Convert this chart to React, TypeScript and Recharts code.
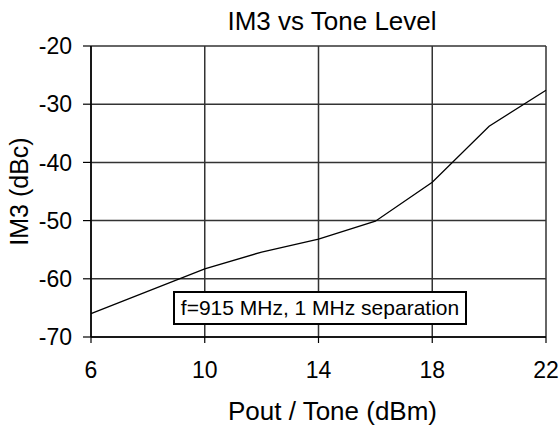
import { LineChart, Line, XAxis, YAxis, CartesianGrid } from 'recharts';

// Pout per tone (dBm) and measured IM3 (dBc)
const toneLevels = [6, 10, 12, 14, 16, 18, 20, 22];
const im3Values = [-66, -58.3, -55.4, -53.2, -50.1, -43.4, -33.8, -27.6];

const xTicks = [6, 10, 14, 18, 22];
const yTicks = [-70, -60, -50, -40, -30, -20];

const chartData = toneLevels.map((x, i) => ({ x, im3: im3Values[i] }));

const font = '"Liberation Sans", Arial, sans-serif';

export default function App() {
  return (
    <div style={{ position: 'absolute', left: 0, top: 0, width: 559, height: 427, background: '#fff', fontFamily: font }}>
      <LineChart
        width={559}
        height={427}
        data={chartData}
        margin={{ top: 46, right: 13, left: 0, bottom: 0 }}
      >
        <CartesianGrid stroke="#333" strokeWidth={1.5} horizontalValues={yTicks} verticalValues={xTicks} />
        <XAxis
          dataKey="x"
          type="number"
          domain={[6, 22]}
          ticks={xTicks}
          height={90}
          tickSize={6}
          tickMargin={19}
          axisLine={{ stroke: '#000', strokeWidth: 1.5 }}
          tickLine={{ stroke: '#000', strokeWidth: 1.2 }}
          tick={{ fill: '#000', fontSize: 23, fontFamily: font }}
          label={{
            value: 'Pout / Tone (dBm)',
            position: 'insideBottom',
            offset: 7,
            dx: 14,
            style: { fill: '#000', fontSize: 26, fontFamily: font },
          }}
        />
        <YAxis
          type="number"
          domain={[-70, -20]}
          ticks={yTicks}
          width={91}
          tickSize={8}
          tickMargin={11}
          axisLine={{ stroke: '#000', strokeWidth: 1.5 }}
          tickLine={{ stroke: '#000', strokeWidth: 1.2 }}
          tick={{ fill: '#000', fontSize: 23, fontFamily: font }}
          label={{
            value: 'IM3 (dBc)',
            angle: -90,
            position: 'insideLeft',
            offset: 19,
            style: { fill: '#000', fontSize: 25, fontFamily: font, textAnchor: 'middle' },
          }}
        />
        <Line
          dataKey="im3"
          stroke="#000"
          strokeWidth={1.3}
          dot={false}
          activeDot={false}
          isAnimationActive={false}
        />
      </LineChart>
      <div
        style={{
          position: 'absolute',
          left: 132,
          top: 8,
          width: 400,
          textAlign: 'center',
          fontSize: 26,
          lineHeight: '26px',
          color: '#000',
        }}
      >
        IM3 vs Tone Level
      </div>
      <div
        style={{
          position: 'absolute',
          left: 173,
          top: 291,
          width: 294,
          height: 34,
          boxSizing: 'border-box',
          border: '2.5px solid #000',
          background: '#fff',
          fontSize: 21,
          lineHeight: '29px',
          textAlign: 'center',
          color: '#000',
          whiteSpace: 'nowrap',
        }}
      >
        f=915 MHz, 1 MHz separation
      </div>
    </div>
  );
}
